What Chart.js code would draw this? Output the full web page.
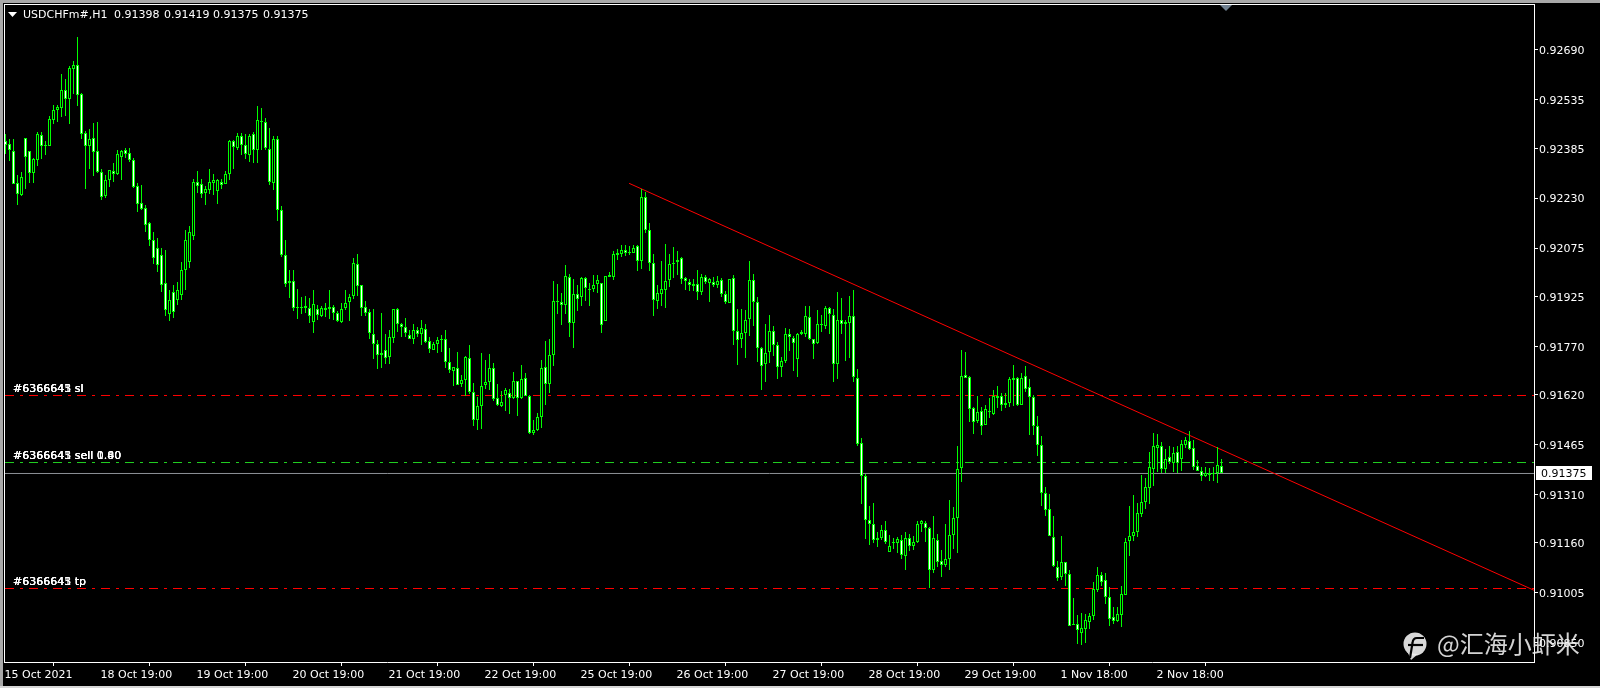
<!DOCTYPE html>
<html>
<head>
<meta charset="utf-8">
<style>html,body{margin:0;padding:0;background:#000}canvas{display:block}</style>
<script src="https://cdn.jsdelivr.net/npm/chart.js@4"></script>
</head>
<body>
<div style="width:1600px;height:688px"><canvas id="c" width="1600" height="688"></canvas></div>
<script>
// Prices in points (1 point = 0.00001)
const high = [
92429,92414,92414,92301,92310,92417,92376,92355,92435,92435,
92407,92485,92518,92519,92615,92600,92640,92656,92730,92555,
92438,92444,92463,92466,92319,92303,92317,92338,92378,92378,
92386,92387,92354,92276,92271,92209,92155,92124,92106,92075,
92068,91944,91960,91969,92031,92131,92143,92289,92314,92289,
92269,92322,92305,92289,92288,92314,92410,92409,92432,92431,
92428,92428,92434,92515,92509,92478,92447,92422,92422,92205,
92099,92006,92006,91947,91922,91925,91919,91944,91897,91895,
91904,91944,91897,91879,91903,91944,91931,92043,92056,91960,
91910,91887,91885,91789,91873,91807,91820,91887,91890,91841,
91857,91820,91839,91830,91851,91839,91798,91782,91798,91804,
91820,91764,91707,91752,91680,91739,91773,91655,91612,91748,
91727,91745,91718,91652,91632,91642,91636,91690,91661,91711,
91686,91618,91541,91562,91727,91785,91794,91974,91963,91935,
92022,91994,91980,91960,91986,91984,91966,91991,91990,91967,
91989,92002,92067,92071,92086,92085,92082,92086,92084,92257,
92249,92152,92058,91960,92034,92089,92056,92078,92066,92046,
91986,91978,91979,92007,91993,91991,91981,91984,91988,91983,
91943,91980,91991,91887,91887,91882,92034,91993,91922,91767,
91840,91866,91832,91782,91736,91828,91824,91801,91812,91822,
91894,91894,91794,91882,91868,91894,91892,91887,91938,91919,
91853,91925,91944,91698,91484,91372,91273,91282,91192,91214,
91227,91183,91176,91177,91183,91192,91186,91180,91227,91232,
91226,91208,91242,91186,91136,91217,91292,91270,91459,91757,
91751,91677,91581,91615,91583,91587,91609,91634,91648,91624,
91624,91674,91711,91674,91687,91708,91667,91618,91553,91491,
91333,91311,91243,91103,91180,91100,91075,90988,90935,90941,
90938,90942,91038,91086,91068,91066,91022,90960,90960,91025,
91174,91274,91308,91282,91370,91360,91441,91500,91497,91474,
91452,91460,91458,91460,91478,91487,91507,91478,91416,91395,
91394,91392,91395,91456,91419];
const low = [
92367,92346,92275,92209,92238,92258,92277,92277,92330,92351,
92364,92393,92459,92466,92483,92485,92460,92553,92517,92414,
92258,92320,92299,92309,92224,92230,92265,92280,92303,92286,
92354,92343,92262,92187,92192,92126,92081,92025,92000,91938,
91863,91848,91857,91898,91913,91944,92012,92100,92246,92231,
92209,92244,92240,92212,92259,92274,92286,92320,92379,92364,
92351,92343,92339,92339,92379,92379,92270,92255,92159,92048,
91954,91919,91880,91855,91871,91872,91843,91812,91852,91860,
91860,91855,91851,91846,91843,91882,91849,91916,91926,91863,
91863,91793,91730,91699,91702,91714,91714,91781,91814,91798,
91798,91792,91777,91798,91773,91779,91748,91757,91748,91753,
91703,91686,91646,91650,91643,91617,91623,91522,91509,91512,
91637,91634,91600,91586,91582,91569,91559,91607,91553,91605,
91616,91497,91495,91507,91515,91587,91625,91710,91870,91837,
91870,91800,91765,91880,91896,91911,91896,91939,91934,91812,
91849,91984,91977,92038,92047,92050,92052,92059,92003,92011,
92123,92004,91865,91886,91895,91889,91955,91983,91991,91963,
91945,91942,91942,91914,91929,91963,91908,91955,91950,91923,
91901,91905,91775,91711,91765,91734,91802,91832,91720,91634,
91659,91718,91741,91668,91674,91718,91754,91692,91675,91804,
91798,91791,91730,91778,91813,91825,91808,91658,91667,91807,
91723,91733,91658,91459,91279,91171,91152,91158,91146,91168,
91155,91131,91140,91127,91109,91074,91133,91136,91158,91192,
91161,91020,91065,91084,91053,91084,91074,91140,91127,91348,
91671,91534,91497,91531,91494,91525,91548,91556,91577,91569,
91577,91581,91586,91585,91587,91627,91494,91494,91430,91275,
91244,91181,91085,91042,91044,91025,90901,90904,90846,90843,
90848,90893,90920,91007,91025,90969,90902,90909,90913,90899,
90997,91119,91165,91178,91240,91264,91281,91336,91379,91375,
91375,91404,91380,91375,91383,91453,91447,91385,91382,91352,
91363,91352,91351,91344,91375];
const open = [
92406,92397,92376,92276,92240,92416,92375,92309,92349,92425,
92392,92393,92474,92504,92511,92565,92539,92632,92642,92552,
92431,92393,92416,92375,92310,92238,92286,92313,92306,92359,
92378,92369,92347,92267,92214,92198,92152,92100,92075,92053,
91966,91870,91938,91913,91929,92006,92031,92112,92279,92273,
92246,92256,92278,92253,92279,92275,92304,92406,92387,92422,
92395,92365,92430,92380,92467,92465,92384,92277,92415,92194,
92052,91967,91974,91889,91891,91894,91889,91846,91887,91863,
91890,91893,91893,91874,91845,91888,91908,91926,92027,91959,
91893,91875,91809,91778,91742,91757,91737,91796,91887,91838,
91831,91806,91793,91822,91808,91825,91785,91760,91777,91792,
91794,91722,91694,91704,91653,91666,91735,91629,91541,91585,
91650,91660,91704,91610,91584,91620,91624,91610,91661,91608,
91670,91617,91501,91509,91551,91707,91652,91742,91912,91906,
91899,91984,91841,91933,91922,91983,91945,91949,91964,91965,
91849,91986,91986,92054,92057,92068,92060,92060,92080,92036,
92232,92132,92029,91912,91933,91945,91977,92026,92032,92043,
91981,91970,91958,91962,91939,91984,91967,91970,91960,91977,
91933,91905,91981,91819,91794,91812,91856,91977,91909,91766,
91715,91752,91819,91774,91706,91725,91809,91797,91731,91808,
91809,91861,91793,91780,91836,91834,91890,91867,91715,91853,
91839,91842,91865,91673,91470,91368,91231,91218,91169,91175,
91201,91131,91159,91159,91167,91119,91176,91150,91162,91218,
91222,91207,91075,91167,91104,91091,91110,91184,91237,91392,
91682,91676,91578,91538,91568,91526,91566,91560,91610,91617,
91588,91594,91673,91673,91587,91679,91643,91614,91524,91465,
91316,91266,91179,91086,91054,91099,91064,90905,90909,90880,
90893,90914,90933,91014,91061,91043,90990,90928,90917,90936,
90998,91165,91182,91194,91250,91287,91330,91389,91454,91461,
91389,91425,91409,91443,91420,91462,91477,91454,91398,91384,
91368,91375,91372,91375,91398];
const close = [
92396,92378,92275,92244,92295,92359,92309,92350,92428,92393,
92394,92475,92503,92512,92565,92539,92634,92642,92551,92430,
92393,92413,92374,92312,92234,92285,92316,92306,92366,92375,
92368,92349,92265,92213,92197,92148,92100,92044,92022,91960,
91882,91913,91876,91944,92006,92100,92124,92280,92269,92244,
92257,92279,92285,92285,92272,92304,92406,92388,92422,92396,
92366,92424,92380,92474,92471,92386,92280,92415,92193,92054,
91964,91974,91889,91891,91893,91889,91864,91900,91867,91890,
91884,91886,91874,91850,91887,91903,91924,92030,91958,91889,
91874,91812,91777,91742,91750,91734,91798,91887,91840,91829,
91812,91793,91822,91808,91828,91784,91762,91778,91788,91788,
91722,91695,91706,91650,91665,91736,91628,91541,91586,91648,
91660,91704,91607,91588,91596,91633,91610,91661,91608,91669,
91616,91500,91509,91549,91704,91652,91742,91912,91908,91897,
91987,91843,91931,91918,91981,91950,91948,91961,91975,91835,
91989,91990,92055,92061,92068,92060,92062,92076,92036,92232,
92132,92030,91915,91934,91947,91974,92027,92030,92038,91979,
91973,91961,91962,91940,91984,91970,91978,91960,91974,91932,
91908,91978,91818,91791,91811,91853,91977,91906,91766,91709,
91750,91819,91774,91707,91725,91809,91799,91780,91809,91813,
91863,91794,91778,91840,91838,91890,91870,91715,91853,91839,
91844,91865,91675,91467,91367,91231,91218,91169,91176,91201,
91162,91151,91161,91171,91122,91176,91150,91163,91219,91226,
91206,91075,91176,91100,91091,91111,91183,91238,91390,91679,
91672,91575,91536,91567,91523,91574,91569,91615,91615,91587,
91595,91667,91666,91587,91673,91638,91613,91524,91464,91315,
91262,91181,91088,91051,91099,91063,90902,90907,90890,90894,
90919,90934,91015,91061,91039,90992,90924,90917,90940,91002,
91161,91182,91193,91252,91285,91332,91394,91459,91462,91389,
91421,91410,91440,91408,91468,91478,91452,91396,91383,91368,
91378,91369,91378,91400,91375];

const priceTicks = [0.92690,0.92535,0.92385,0.92230,0.92075,0.91925,0.91770,0.91620,0.91465,0.91310,0.91160,0.91005,0.90850];
const dateTickBars = [0,24,48,72,96,120,144,168,192,216,240,264,288];
const dateLabels = ['15 Oct 2021','18 Oct 19:00','19 Oct 19:00','20 Oct 19:00','21 Oct 19:00','22 Oct 19:00','25 Oct 19:00','26 Oct 19:00','27 Oct 19:00','28 Oct 19:00','29 Oct 19:00','1 Nov 18:00','2 Nov 18:00'];

const slPrice = 0.916172;
const entryPrice = 0.914091;
const tpPrice = 0.910179;
const lastPrice = 0.91375;
const trendBars = [155.9, 382.2];
const trendPrices = [0.92276, 0.91012];
const slLabels = ['#6366643 sl','#6366645 sl','#6366641 sl'];
const entryLabels = ['#6366643 sell 0.80','#6366645 sell 1.00','#6366641 sell 0.40'];
const tpLabels = ['#6366643 tp','#6366645 tp','#6366641 tp'];
const symbolText = 'USDCHFm#,H1';
const ohlcText = ['0.91398','0.91419','0.91375','0.91375'];
const watermark = '@汇海小虾米';

const FONT = '11px "DejaVu Sans"';
const X_MIN = -0.125, X_MAX = 382.125;

const idx = high.map((_, i) => i);
const hLine = (p, color, dash) => ({
  type:'line', data:[{x:X_MIN,y:p},{x:X_MAX,y:p}], borderColor:color, borderWidth:1,
  borderDash:dash, pointRadius:0, order:5, tension:0
});

const snapBars = {
  id:'snapBars',
  afterDatasetsUpdate(chart){
    chart.getSortedVisibleDatasetMetas().forEach(m=>{
      if(m.type!=='bar') return;
      m.data.forEach(el=>{
        let t=Math.round(Math.min(el.y,el.base)), b=Math.round(Math.max(el.y,el.base));
        if(b-t<1) b=t+1;
        el.y=t; el.base=b; el.height=b-t;
      });
    });
  }
};

const chrome = {
  id:'chrome',
  beforeDraw(chart){
    const c=chart.ctx;
    c.save();
    c.fillStyle='#000'; c.fillRect(0,0,1600,688);
    c.fillStyle='#a8a8a8'; c.fillRect(0,0,1600,3);
    c.fillRect(0,0,3,688);
    c.fillStyle='#d6d6d6'; c.fillRect(0,686,1600,2);
    c.restore();
  },
  afterDraw(chart){
    const c=chart.ctx, y=chart.scales.y;
    c.save();
    c.fillStyle='#fff';
    c.fillRect(4,4,1531,1);
    c.fillRect(4,4,1,659);
    const py=y.getPixelForValue(lastPrice);
    c.fillStyle='#fff'; c.fillRect(1536,Math.round(py)-7,56,14);
    c.fillStyle='#000'; c.font=FONT; c.textBaseline='middle'; c.textAlign='left';
    c.fillText(lastPrice.toFixed(5),1541,py+0.5);
    c.fillStyle='#fff';
    c.beginPath(); c.moveTo(8,12); c.lineTo(17,12); c.lineTo(12.5,17); c.closePath(); c.fill();
    c.fillText(symbolText,23,15);
    [114,164,213,263].forEach((x,i)=>c.fillText(ohlcText[i],x,15));
    c.fillStyle='#708090';
    c.beginPath(); c.moveTo(1220,5); c.lineTo(1232,5); c.lineTo(1226,11); c.closePath(); c.fill();
    c.fillStyle='#fff';
    slLabels.forEach(t=>c.fillText(t,13,389));
    entryLabels.forEach(t=>c.fillText(t,13,456));
    tpLabels.forEach(t=>c.fillText(t,13,582));
    c.globalAlpha=0.9;
    c.fillStyle='#efefef';
    c.beginPath(); c.arc(1415,644,11.5,0,Math.PI*2); c.fill();
    c.beginPath(); c.moveTo(1408,653); c.lineTo(1411,660); c.lineTo(1418,654); c.closePath(); c.fill();
    c.globalAlpha=1;
    c.strokeStyle='#000'; c.lineWidth=2.2;
    c.beginPath(); c.moveTo(1424,638); c.lineTo(1417,638); c.quadraticCurveTo(1413,638,1412.5,643); c.lineTo(1410,658); c.stroke();
    c.beginPath(); c.moveTo(1408,645); c.lineTo(1423,645); c.stroke();
    c.globalAlpha=0.88;
    c.fillStyle='#f0f0f0';
    c.font='24px "Noto Sans CJK SC"'; c.textBaseline='alphabetic';
    c.fillText(watermark,1437,653);
    c.restore();
  }
};

new Chart(document.getElementById('c'), {
  type:'bar',
  plugins:[snapBars, chrome],
  data:{
    datasets:[
      { type:'bar', order:1, grouped:false, barThickness:3, borderWidth:1, borderSkipped:false, inflateAmount:0,
        data:idx.map(i=>({x:i,y:[open[i]/1e5,close[i]/1e5]})),
        borderColor:'#00ff00',
        backgroundColor:idx.map(i=>close[i]<open[i]?'#ffffff':'#000000') },
      { type:'bar', order:2, grouped:false, barThickness:1, borderWidth:0, inflateAmount:0,
        data:idx.map(i=>({x:i,y:[low[i]/1e5,high[i]/1e5]})),
        backgroundColor:'#00ff00' },
      hLine(slPrice,'#ff0000',[9,6,3,6]),
      hLine(entryPrice,'#22d022',[9,6,3,6]),
      hLine(tpPrice,'#ff0000',[9,6,3,6]),
      hLine(lastPrice,'#8c9096',[]),
      { type:'line', order:4, data:trendBars.map((x,i)=>({x,y:trendPrices[i]})), borderColor:'#ff0000', borderWidth:1, pointRadius:0, tension:0 }
    ]
  },
  options:{
    responsive:false, animation:false, events:[],
    layout:{padding:{left:5,top:5,right:0,bottom:0}},
    plugins:{legend:{display:false},title:{display:false},tooltip:{enabled:false}},
    scales:{
      x:{ type:'linear', min:X_MIN, max:X_MAX, offset:false,
        afterBuildTicks(s){ s.ticks=dateTickBars.map(v=>({value:v})); },
        afterFit(s){ s.height=26; s.paddingLeft=0; s.paddingRight=0; },
        grid:{display:true,drawOnChartArea:false,color:'#fff',tickLength:4,tickWidth:1},
        border:{color:'#fff',width:1},
        ticks:{ color:'#fff', font:{family:'DejaVu Sans',size:11}, padding:3, align:'start', labelOffset:-1, maxRotation:0, autoSkip:false,
          callback(v){ const k=dateTickBars.indexOf(v); return k>=0?dateLabels[k]:''; } }
      },
      y:{ type:'linear', position:'right', min:0.907897, max:0.928297,
        afterBuildTicks(s){ s.ticks=priceTicks.map(v=>({value:v})); },
        afterFit(s){ s.width=66; s.paddingTop=0; s.paddingBottom=0; },
        grid:{display:true,drawOnChartArea:false,color:'#fff',tickLength:4,tickWidth:1},
        border:{color:'#fff',width:1},
        ticks:{ color:'#fff', font:{family:'DejaVu Sans',size:11}, padding:1, labelOffset:1.5, autoSkip:false,
          callback(v){ return v.toFixed(5); } }
      }
    }
  }
});
</script>
</body>
</html>
